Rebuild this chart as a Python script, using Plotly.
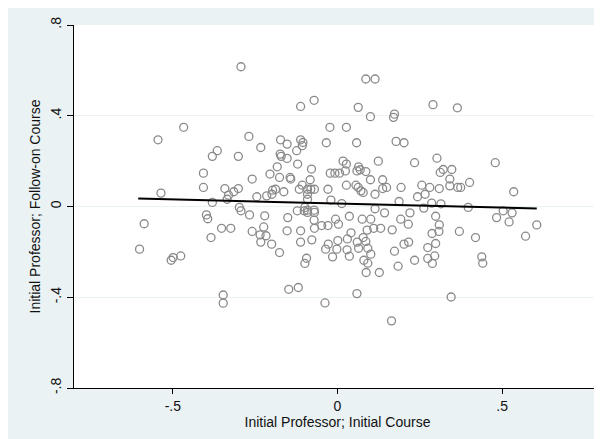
import plotly.graph_objects as go

# Scatter points (x: initial course, y: follow-on course)
pts = [
(-0.293,0.616),(0.086,0.562),(0.114,0.562),(-0.071,0.468),(-0.112,0.441),(0.063,0.437),
(0.290,0.449),(0.364,0.435),(0.100,0.396),(0.173,0.407),(0.170,0.393),(-0.467,0.349),
(-0.023,0.349),(0.027,0.349),(-0.545,0.294),(-0.269,0.309),(-0.173,0.294),(-0.112,0.294),
(-0.105,0.282),(-0.153,0.275),(-0.107,0.268),(-0.034,0.281),(0.058,0.281),(0.178,0.287),
(0.202,0.281),(-0.233,0.260),(-0.365,0.246),(-0.124,0.246),(-0.380,0.221),(-0.301,0.221),
(-0.174,0.231),(-0.171,0.221),(-0.153,0.212),(-0.121,0.187),(0.124,0.200),(0.017,0.200),
(0.027,0.187),(0.234,0.193),(0.302,0.213),(0.479,0.193),(-0.183,0.175),(-0.079,0.165),
(0.064,0.175),(0.069,0.162),(0.059,0.157),(0.086,0.154),(-0.407,0.147),(-0.205,0.143),
(-0.144,0.128),(-0.142,0.121),(-0.022,0.147),(-0.008,0.147),(0.006,0.147),(0.024,0.157),
(0.321,0.163),(0.347,0.163),(0.312,0.150),(0.341,0.121),(-0.259,0.121),(-0.176,0.128),
(-0.083,0.118),(0.100,0.118),(0.137,0.118),(0.401,0.106),(-0.407,0.084),(-0.342,0.079),
(-0.301,0.079),(-0.315,0.065),(-0.197,0.072),(-0.188,0.076),(-0.163,0.065),(-0.107,0.094),
(-0.116,0.076),(-0.091,0.076),(-0.070,0.076),(-0.081,0.076),(-0.029,0.076),(0.027,0.094),
(0.056,0.094),(0.063,0.084),(0.071,0.069),(0.078,0.062),(0.114,0.054),(0.137,0.079),
(0.149,0.084),(0.193,0.084),(0.256,0.094),(0.280,0.084),(0.266,0.054),(0.309,0.079),
(0.365,0.084),(0.374,0.084),(0.341,0.091),(0.535,0.065),(-0.536,0.059),(-0.331,0.050),
(-0.335,0.032),(-0.380,0.018),(-0.245,0.043),(-0.215,0.047),(-0.199,0.054),(-0.091,0.054),
(-0.091,0.032),(-0.020,0.028),(0.013,0.013),(0.243,0.043),(0.187,0.022),(0.286,0.015),
(0.314,0.012),(0.397,-0.004),(0.262,-0.007),(0.114,-0.010),(-0.298,-0.004),(-0.293,-0.019),
(-0.267,-0.037),(-0.398,-0.037),(-0.394,-0.054),(-0.099,-0.004),(-0.091,-0.016),(-0.101,-0.019),
(-0.091,-0.026),(-0.122,-0.019),(-0.071,-0.016),(-0.070,-0.026),(0.143,-0.028),(0.220,-0.028),
(0.503,-0.019),(0.530,-0.028),(0.483,-0.049),(0.298,-0.043),(-0.221,-0.041),(-0.151,-0.049),
(-0.071,-0.060),(0.036,-0.043),(-0.006,-0.056),(0.075,-0.056),(0.101,-0.056),(0.192,-0.056),
(0.521,-0.068),(-0.587,-0.076),(0.003,-0.078),(0.215,-0.078),(0.309,-0.081),(-0.048,-0.084),
(-0.029,-0.084),(0.605,-0.081),(-0.352,-0.096),(-0.324,-0.096),(-0.224,-0.090),(-0.070,-0.096),
(0.110,-0.096),(0.131,-0.096),(0.090,-0.104),(-0.259,-0.110),(-0.153,-0.107),(-0.112,-0.107),
(0.041,-0.116),(0.166,-0.103),(0.308,-0.110),(0.370,-0.110),(0.287,-0.119),(-0.235,-0.125),
(-0.217,-0.129),(-0.384,-0.137),(0.419,-0.137),(0.571,-0.131),(0.030,-0.143),(0.078,-0.137),
(0.001,-0.150),(-0.078,-0.147),(-0.112,-0.157),(-0.233,-0.157),(-0.200,-0.166),(-0.028,-0.166),
(0.060,-0.157),(0.086,-0.154),(0.216,-0.157),(0.202,-0.166),(0.298,-0.163),(-0.601,-0.188),
(-0.036,-0.188),(-0.002,-0.188),(0.029,-0.191),(0.064,-0.184),(0.092,-0.184),(0.274,-0.181),
(-0.176,-0.203),(0.173,-0.197),(0.101,-0.210),(0.036,-0.219),(0.295,-0.218),(-0.476,-0.218),
(-0.499,-0.225),(-0.505,-0.237),(-0.094,-0.228),(-0.099,-0.251),(-0.015,-0.222),(0.080,-0.237),
(0.092,-0.250),(0.234,-0.237),(0.274,-0.229),(0.288,-0.251),(0.438,-0.222),(0.441,-0.250),
(0.184,-0.263),(0.087,-0.291),(0.127,-0.291),(-0.148,-0.365),(-0.119,-0.357),(-0.347,-0.390),
(-0.347,-0.426),(0.059,-0.384),(-0.038,-0.425),(0.345,-0.399),(0.164,-0.504),
]
x_initial = [p[0] for p in pts]
y_followon = [p[1] for p in pts]

# Fitted line values
fit_x = [-0.605, 0.605]
fit_y = [0.035, -0.009]

tick_vals_x = [-0.5, 0, 0.5]
tick_text_x = ["-.5", "0", ".5"]
tick_vals_y = [-0.8, -0.4, 0, 0.4, 0.8]
tick_text_y = ["-.8", "-.4", "0", ".4", ".8"]

fig = go.Figure()
fig.add_trace(go.Scatter(
    x=x_initial, y=y_followon, mode="markers",
    marker=dict(symbol="circle-open", size=8, color="#8a8a8a", line=dict(width=1.3, color="#8a8a8a")),
    showlegend=False, hoverinfo="skip"))
fig.add_trace(go.Scatter(
    x=fit_x, y=fit_y, mode="lines", line=dict(color="black", width=2),
    showlegend=False, hoverinfo="skip"))

font = "Liberation Sans, Arial, sans-serif"
fig.update_layout(
    width=602, height=439,
    margin=dict(l=66, r=9, t=17, b=59),
    paper_bgcolor="#EAF2F3", plot_bgcolor="white",
    font=dict(family=font, size=14, color="#111"),
    xaxis=dict(range=[-0.8, 0.8], tickvals=tick_vals_x, ticktext=tick_text_x, automargin=False,
               showgrid=False, zeroline=False, showline=True, linecolor="black", linewidth=1.2,
               ticks="outside", ticklen=5, tickcolor="black", tickfont=dict(size=14),
               title=dict(text="Initial Professor; Initial Course", standoff=2, font=dict(size=14))),
    yaxis=dict(range=[-0.8, 0.8], tickvals=tick_vals_y, ticktext=tick_text_y, tickangle=-90,
               automargin=False,
               showgrid=True, gridcolor="#EAF2F3", gridwidth=1, zeroline=False,
               showline=True, linecolor="black", linewidth=1.2,
               ticks="outside", ticklen=6, tickcolor="black", tickfont=dict(size=14),
               title=dict(text="Initial Professor; Follow-on Course", standoff=4, font=dict(size=14))),
)
fig.write_html("out.html")
